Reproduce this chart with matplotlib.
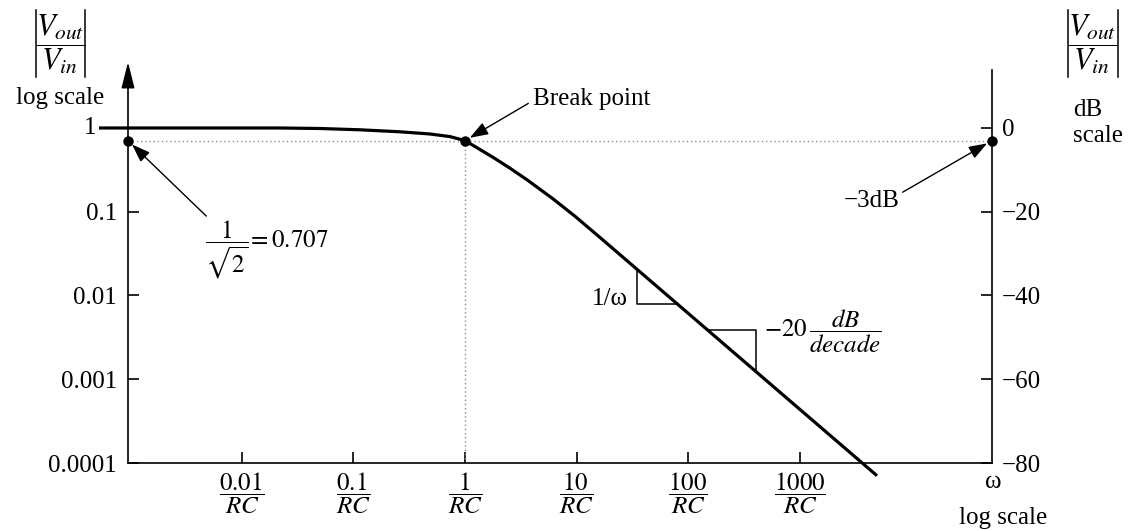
import matplotlib
matplotlib.use('Agg')
import matplotlib.pyplot as plt
from matplotlib.lines import Line2D
from matplotlib.ticker import NullLocator

plt.rcParams['font.family'] = ['Liberation Serif', 'DejaVu Serif']
plt.rcParams['mathtext.fontset'] = 'stix'

# ---- data (omega in units of 1/RC) ----
omega_rc = [5.25e-4, 4.22e-3, 0.0220, 0.0502, 0.1146, 0.2616, 0.4858, 0.7337, 1.0,
            1.335, 1.782, 2.531, 3.594, 6.145, 9.676, 16.21, 127.6, 1004.0, 4918.0]
gain = [1.0, 1.0, 1.0, 0.9863, 0.9517, 0.9008, 0.8479, 0.7894, 0.707,
        0.5623, 0.4461, 0.3309, 0.2407, 0.1425, 0.08825, 0.04924, 0.004629,
        0.0004351, 7.046e-5]

x_ticks = [0.01, 0.1, 1, 10, 100, 1000]
x_ticklabels = [r'$\dfrac{0.01}{RC}$', r'$\dfrac{0.1}{RC}$', r'$\dfrac{1}{RC}$',
                r'$\dfrac{10}{RC}$', r'$\dfrac{100}{RC}$', r'$\dfrac{1000}{RC}$']
y_ticks = [1e-4, 1e-3, 1e-2, 0.1, 1]
y_ticklabels = ['0.0001', '0.001', '0.01', '0.1', '']
db_ticks = [0, -20, -40, -60, -80]
db_ticklabels = ['0', '\u221220', '\u221240', '\u221260', '\u221280']

break_gain = 0.707
tri1_x = [34.76, 34.76, 81.0]
tri1_y = [0.02055, 0.007918, 0.007918]
tri2_x = [150.4, 405.0, 405.0]
tri2_y = [0.003832, 0.003832, 0.001231]

W, H = 1136, 531
FS = 18

fig = plt.figure(figsize=(W / 100, H / 100), dpi=100)
ax = fig.add_axes([128 / W, (H - 463) / H, (992 - 128) / W, (463 - 70) / H])
ax.set_xscale('log')
ax.set_yscale('log')
xmin, xmax = 10 ** -3.02, 10 ** 4.722
ax.set_xlim(xmin, xmax)
ax.set_ylim(1e-4, 10 ** 0.6925)

for s in ['top', 'left', 'right']:
    ax.spines[s].set_visible(False)
ax.spines['bottom'].set_linewidth(1.2)

ax.set_xticks(x_ticks)
ax.set_xticklabels(x_ticklabels, fontsize=FS)
ax.set_yticks(y_ticks)
ax.set_yticklabels(y_ticklabels, fontsize=FS)
ax.xaxis.set_minor_locator(NullLocator())
ax.yaxis.set_minor_locator(NullLocator())
ax.tick_params(axis='x', direction='in', length=8, width=1.2, pad=5)
ax.tick_params(axis='y', direction='in', length=8, width=1.2, pad=8)

ax2 = ax.twinx()
ax2.set_ylim(-80, 20 * 0.6925)
for s in ['top', 'left', 'bottom']:
    ax2.spines[s].set_visible(False)
ax2.spines['right'].set_linewidth(1.2)
ax2.set_yticks(db_ticks)
ax2.set_yticklabels(db_ticklabels, fontsize=FS)
ax2.tick_params(axis='y', direction='in', length=8, width=1.2, pad=7)

# left axis with arrow
ax.annotate('', xy=(0, 1 + 8 / 393), xytext=(0, 0), xycoords='axes fraction',
            arrowprops=dict(arrowstyle='-|>,head_length=0.8,head_width=0.2',
                            lw=1.2, color='k', shrinkA=0, shrinkB=0,
                            mutation_scale=20), annotation_clip=False)
ax.annotate('1', xy=(0, 1), xycoords=('axes fraction', 'data'),
            xytext=(-23, 0), textcoords='offset points', ha='right', va='center',
            fontsize=FS)

# dotted guides
ax.plot([xmin, xmax], [break_gain, break_gain], ls=(0, (1, 2)), color='0.55', lw=1)
ax.plot([1, 1], [1e-4, break_gain], ls=(0, (1, 2)), color='0.55', lw=1)

# curve
ax.plot(omega_rc, gain, color='k', lw=2.3, clip_on=False, solid_capstyle='butt',
        solid_joinstyle='round', zorder=5)

# dots
ax.plot([xmin, 1, xmax], [break_gain] * 3, 'o', color='k', ms=6.5, clip_on=False, zorder=6)

# slope triangles
ax.plot(tri1_x, tri1_y, color='k', lw=1.1)
ax.plot(tri2_x, tri2_y, color='k', lw=1.1)


def fp(x, y):
    return (x / W, 1 - y / H)


def vbar(x, y0, y1):
    (fx0, fy0), (fx1, fy1) = fp(x, y0), fp(x, y1)
    fig.add_artist(Line2D([fx0, fx1], [fy0, fy1], transform=fig.transFigure,
                          color='k', lw=1.1))


frac = r'$\dfrac{V_{out}}{V_{in}}$'
fig.text(*fp(60.5, 44), frac, ha='center', va='center', fontsize=22)
vbar(36, 10, 77)
vbar(85, 10, 77)
fig.text(*fp(1093, 44), frac, ha='center', va='center', fontsize=22)
vbar(1068, 10, 77)
vbar(1118, 10, 77)

fig.text(*fp(60, 98), 'log scale', ha='center', va='center', fontsize=FS)
fig.text(*fp(1073, 110), 'dB', ha='left', va='center', fontsize=FS)
fig.text(*fp(1073, 136), 'scale', ha='left', va='center', fontsize=FS)
fig.text(*fp(993, 482), '\u03c9', ha='center', va='center', fontsize=FS)
fig.text(*fp(1003, 518), 'log scale', ha='center', va='center', fontsize=FS)
fig.text(*fp(628, 299), '1/\u03c9', ha='right', va='center', fontsize=FS)
fig.text(*fp(764, 331), r'$-20\,\dfrac{dB}{decade}$', ha='left', va='center', fontsize=FS)

arrow_kw = dict(arrowstyle='-|>,head_length=0.7,head_width=0.25', lw=1.0, color='k',
                shrinkA=0, shrinkB=4, mutation_scale=16)
ax.annotate(r'$\dfrac{1}{\sqrt{2}}\!=0.707$', xy=(xmin, break_gain), xycoords='data',
            xytext=(205, H - 250), textcoords='figure pixels', ha='left', va='center',
            fontsize=FS, annotation_clip=False,
            arrowprops=dict(arrow_kw, relpos=(0.06, 0.95)))
ax.annotate('Break point', xy=(1, break_gain), xycoords='data',
            xytext=(533, H - 99), textcoords='figure pixels', ha='left', va='center',
            fontsize=FS, annotation_clip=False,
            arrowprops=dict(arrow_kw, relpos=(-0.04, 0.3)))
ax.annotate('\u22123dB', xy=(xmax, break_gain), xycoords='data',
            xytext=(844, H - 201), textcoords='figure pixels', ha='left', va='center',
            fontsize=FS, annotation_clip=False,
            arrowprops=dict(arrow_kw, relpos=(1.05, 0.9)))

fig.savefig('out.png', dpi=100)
